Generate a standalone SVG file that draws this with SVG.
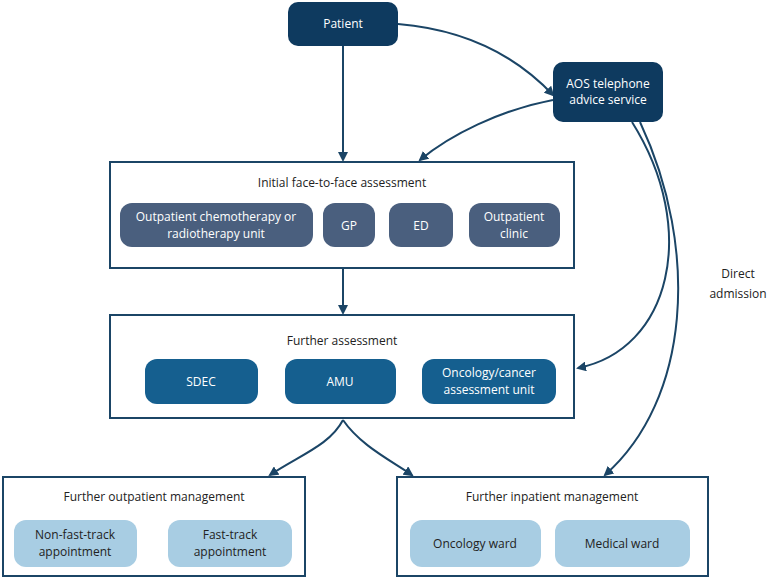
<svg xmlns="http://www.w3.org/2000/svg" width="768" height="580" viewBox="0 0 768 580">
<defs>
<marker id="ah" viewBox="0 0 10 10" refX="8" refY="5" markerWidth="5" markerHeight="5" orient="auto"><path d="M0,0L10,5L0,10z" fill="#1b4566"/></marker>
<style>
text{font-family:"Open Sans","Liberation Sans",sans-serif;font-size:12px;text-anchor:middle}
.frame{fill:#fff;stroke:#1b4566;stroke-width:2}
.dk{fill:#0e3a5f}.gr{fill:#4a5f7e}.md{fill:#155f8f}.lt{fill:#a8cde3}
.w{fill:#fff}.b{fill:#222}
.c{fill:none;stroke:#1b4566;stroke-width:2;marker-end:url(#ah)}
</style>
</defs>
<rect width="768" height="580" fill="#fff"/>
<g id="connectors">
<path class="c" d="M343,46L343,160"/>
<path class="c" d="M398,24C470,30 520,60 553,95"/>
<path class="c" d="M553,100C500,110 450,135 420,160"/>
<path class="c" d="M343,268L343,313"/>
<path class="c" d="M632,122C700,230 670,350 578,368"/>
<path class="c" d="M640,122C700,250 690,400 605,475"/>
<path class="c" d="M343,420C330,445 300,455 270,475"/>
<path class="c" d="M343,420C360,445 390,460 412,475"/>
</g>
<text x="738" y="278" class="b" font-size="13">Direct</text>
<text x="738" y="298" class="b" font-size="13">admission</text>
<g id="patient"><rect x="288" y="2" width="110" height="44" rx="10" class="dk"/><text x="343" y="28" class="w">Patient</text></g>
<g id="aos"><rect x="553" y="62" width="110" height="60" rx="10" class="dk"/><text x="608" y="88" class="w">AOS telephone</text><text x="608" y="104" class="w">advice service</text></g>
<g id="initial"><rect x="110" y="162" width="464" height="106" class="frame"/><text x="342" y="187" class="b">Initial face-to-face assessment</text>
<rect x="120" y="203" width="193" height="44" rx="12" class="gr"/><text x="216" y="221" class="w">Outpatient chemotherapy or</text><text x="216" y="238" class="w">radiotherapy unit</text>
<rect x="323" y="203" width="52" height="44" rx="12" class="gr"/><text x="349" y="230" class="w">GP</text>
<rect x="389" y="203" width="64" height="44" rx="12" class="gr"/><text x="421" y="230" class="w">ED</text>
<rect x="469" y="203" width="91" height="44" rx="12" class="gr"/><text x="514" y="221" class="w">Outpatient</text><text x="514" y="238" class="w">clinic</text></g>
<g id="further"><rect x="110" y="315" width="464" height="103" class="frame"/><text x="342" y="345" class="b">Further assessment</text>
<rect x="145" y="359" width="113" height="45" rx="12" class="md"/><text x="201" y="386" class="w">SDEC</text>
<rect x="285" y="359" width="111" height="45" rx="12" class="md"/><text x="340" y="386" class="w">AMU</text>
<rect x="422" y="359" width="134" height="45" rx="12" class="md"/><text x="489" y="377" class="w">Oncology/cancer</text><text x="489" y="394" class="w">assessment unit</text></g>
<g id="outpatient"><rect x="3" y="477" width="302" height="99" class="frame"/><text x="154" y="501" class="b">Further outpatient management</text>
<rect x="14" y="520" width="123" height="47" rx="12" class="lt"/><text x="75" y="539" class="b">Non-fast-track</text><text x="75" y="556" class="b">appointment</text>
<rect x="168" y="520" width="124" height="47" rx="12" class="lt"/><text x="230" y="539" class="b">Fast-track</text><text x="230" y="556" class="b">appointment</text></g>
<g id="inpatient"><rect x="397" y="477" width="311" height="99" class="frame"/><text x="552" y="501" class="b">Further inpatient management</text>
<rect x="410" y="520" width="131" height="47" rx="12" class="lt"/><text x="475" y="548" class="b">Oncology ward</text>
<rect x="555" y="520" width="135" height="47" rx="12" class="lt"/><text x="622" y="548" class="b">Medical ward</text></g>
</svg>
